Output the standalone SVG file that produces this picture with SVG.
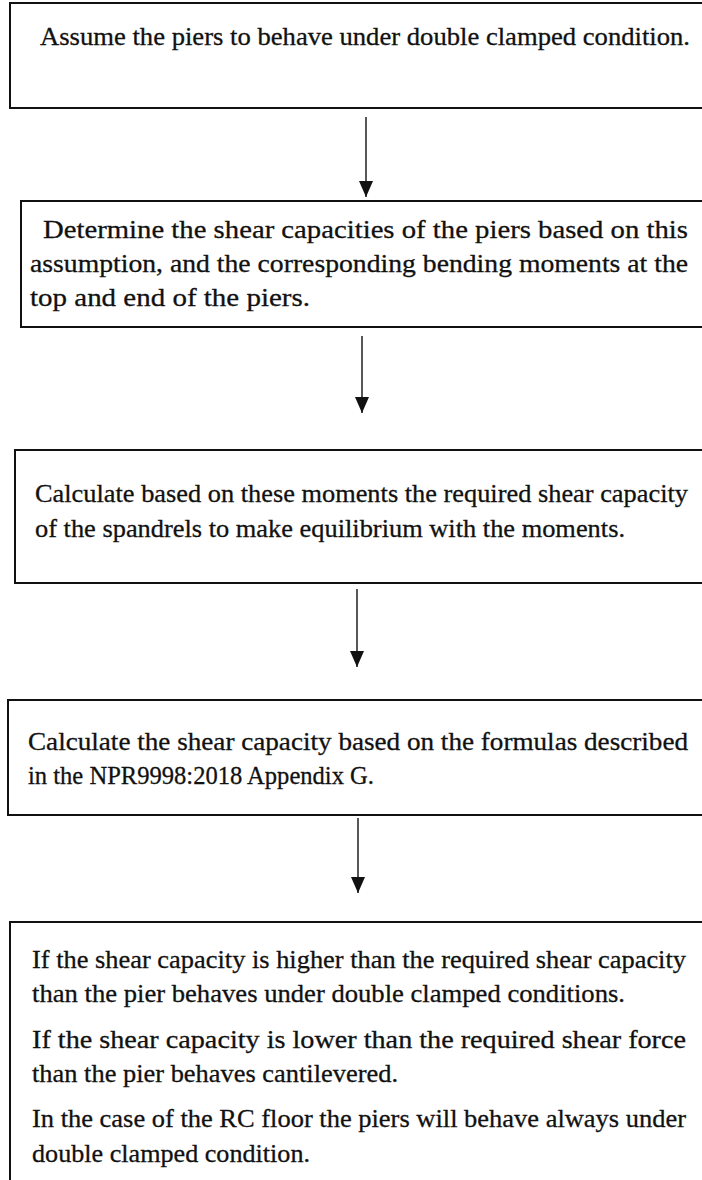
<svg xmlns="http://www.w3.org/2000/svg" width="702" height="1180" viewBox="0 0 702 1180">
  <style>
    .box { fill: #ffffff; stroke: #111111; stroke-width: 2; }
    .txt { font-family: "Liberation Serif", "Times New Roman", serif; font-size: 26px; fill: #111111; stroke: #111111; stroke-width: 0.3; }
    .link { stroke: #111111; stroke-width: 1.4; fill: none; marker-end: url(#head); }
  </style>
  <defs>
    <marker id="head" viewBox="0 0 16 14" refX="16" refY="7" markerWidth="16" markerHeight="14" markerUnits="userSpaceOnUse" orient="auto">
      <path d="M0,0 L16,7 L0,14 Z" fill="#111111"/>
    </marker>
  </defs>
  <rect width="702" height="1180" fill="#ffffff"/>

  <!-- connectors between the steps -->
  <g id="connectors">
    <line class="link" x1="366" y1="117" x2="366" y2="197"/>
    <line class="link" x1="362" y1="336" x2="362" y2="413"/>
    <line class="link" x1="357" y1="589" x2="357" y2="667"/>
    <line class="link" x1="358" y1="818" x2="358" y2="893"/>
  </g>

  <!-- step 1 -->
  <g id="step1">
    <rect class="box" x="10" y="3" width="720" height="105"/>
    <text class="txt" x="40" y="45" textLength="650" lengthAdjust="spacingAndGlyphs">Assume the piers to behave under double clamped condition.</text>
  </g>

  <!-- step 2 -->
  <g id="step2">
    <rect class="box" x="21" y="201" width="720" height="126"/>
    <text class="txt" x="43" y="238" textLength="645" lengthAdjust="spacingAndGlyphs">Determine the shear capacities of the piers based on this</text>
    <text class="txt" x="30" y="272" textLength="658" lengthAdjust="spacingAndGlyphs">assumption, and the corresponding bending moments at the</text>
    <text class="txt" x="30" y="306" textLength="280" lengthAdjust="spacingAndGlyphs">top and end of the piers.</text>
  </g>

  <!-- step 3 -->
  <g id="step3">
    <rect class="box" x="15" y="450" width="720" height="133"/>
    <text class="txt" x="35" y="502" textLength="653" lengthAdjust="spacingAndGlyphs">Calculate based on these moments the required shear capacity</text>
    <text class="txt" x="35" y="537" textLength="590" lengthAdjust="spacingAndGlyphs">of the spandrels to make equilibrium with the moments.</text>
  </g>

  <!-- step 4 -->
  <g id="step4">
    <rect class="box" x="8" y="700" width="720" height="115"/>
    <text class="txt" x="28" y="750" textLength="660" lengthAdjust="spacingAndGlyphs">Calculate the shear capacity based on the formulas described</text>
    <text class="txt" x="28" y="784" textLength="346" lengthAdjust="spacingAndGlyphs">in the NPR9998:2018 Appendix G.</text>
  </g>

  <!-- step 5 -->
  <g id="step5">
    <rect class="box" x="10" y="922" width="720" height="300"/>
    <text class="txt" x="32" y="968" textLength="654" lengthAdjust="spacingAndGlyphs">If the shear capacity is higher than the required shear capacity</text>
    <text class="txt" x="32" y="1002" textLength="593" lengthAdjust="spacingAndGlyphs">than the pier behaves under double clamped conditions.</text>
    <text class="txt" x="32" y="1048" textLength="654" lengthAdjust="spacingAndGlyphs">If the shear capacity is lower than the required shear force</text>
    <text class="txt" x="32" y="1082" textLength="366" lengthAdjust="spacingAndGlyphs">than the pier behaves cantilevered.</text>
    <text class="txt" x="32" y="1127" textLength="654" lengthAdjust="spacingAndGlyphs">In the case of the RC floor the piers will behave always under</text>
    <text class="txt" x="32" y="1162" textLength="278" lengthAdjust="spacingAndGlyphs">double clamped condition.</text>
  </g>
</svg>
